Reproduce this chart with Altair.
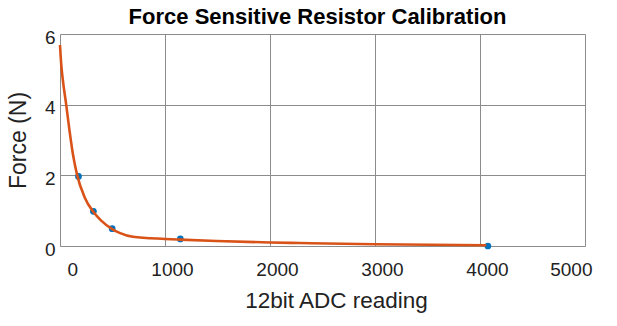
import altair as alt
import pandas as pd

# Fitted calibration curve
curve_x = [0, 11, 27, 59, 90, 122, 164, 233, 319, 392, 497, 567, 694, 1000, 1146, 1489, 2000, 2283, 3000, 4060]
curve_y = [5.69, 5.17, 4.7, 4.0, 3.28, 2.62, 2.0, 1.39, 0.96, 0.72, 0.48, 0.37, 0.26, 0.2, 0.18, 0.14, 0.1, 0.085, 0.05, 0.02]

# Measured calibration points
pts_x = [176, 318, 497, 1146, 4075]
pts_y = [1.97, 0.98, 0.49, 0.2, 0.0]

x_ticks = [0, 1000, 2000, 3000, 4000, 5000]
y_ticks = [0, 2, 4, 6]

curve = pd.DataFrame({"adc": curve_x, "force": curve_y})
pts = pd.DataFrame({"adc": pts_x, "force": pts_y})

FONT = "Liberation Sans"
GRID = "#8c8c8c"

xenc = alt.X(
    "adc:Q",
    scale=alt.Scale(domain=[0, 5000], nice=False),
    axis=alt.Axis(
        values=x_ticks, format="d", title="12bit ADC reading", grid=True, ticks=False, domain=False,
        gridColor=GRID, gridOpacity=1, gridWidth=1,
        labelFontSize=19, labelPadding=14, labelOffset=7, labelFont=FONT, labelColor="#222222",
        titleFontSize=22.5, titleFont=FONT, titleFontWeight="normal", titleColor="#222222",
        titlePadding=10, titleX=276, titleAnchor="start", titleAlign="center",
    ),
)
yenc = alt.Y(
    "force:Q",
    scale=alt.Scale(domain=[0, 6], nice=False),
    axis=alt.Axis(
        values=y_ticks, format="d", title="Force (N)", grid=True, ticks=False, domain=False,
        gridColor=GRID, gridOpacity=1, gridWidth=1,
        labelFontSize=19, labelPadding=5, labelOffset=3, labelFont=FONT, labelColor="#222222",
        titleFontSize=23, titleFont=FONT, titleFontWeight="normal", titleColor="#222222",
        titlePadding=14,
    ),
)

line = alt.Chart(curve).mark_line(color="#D95319", strokeWidth=2.6, interpolate="monotone").encode(
    x=xenc, y=yenc
)
dots = alt.Chart(pts).mark_circle(color="#0072BD", size=45, opacity=1).encode(x="adc:Q", y="force:Q")

chart = (
    alt.layer(dots, line)
    .properties(
        width=525,
        height=212,
        title=alt.TitleParams(
            "Force Sensitive Resistor Calibration",
            fontSize=22, fontWeight="bold", font=FONT, color="#000000",
            anchor="middle", offset=-1, dx=-5,
        ),
        autosize=alt.AutoSizeParams(type="none"),
        padding={"left": 60, "top": 34, "right": 32, "bottom": 80},
    )
    .configure_view(stroke="#333333", strokeWidth=1.3, strokeOpacity=1)
    .configure(background="white")
)

chart.save("out.html", embed_options={"renderer": "svg", "actions": False})
